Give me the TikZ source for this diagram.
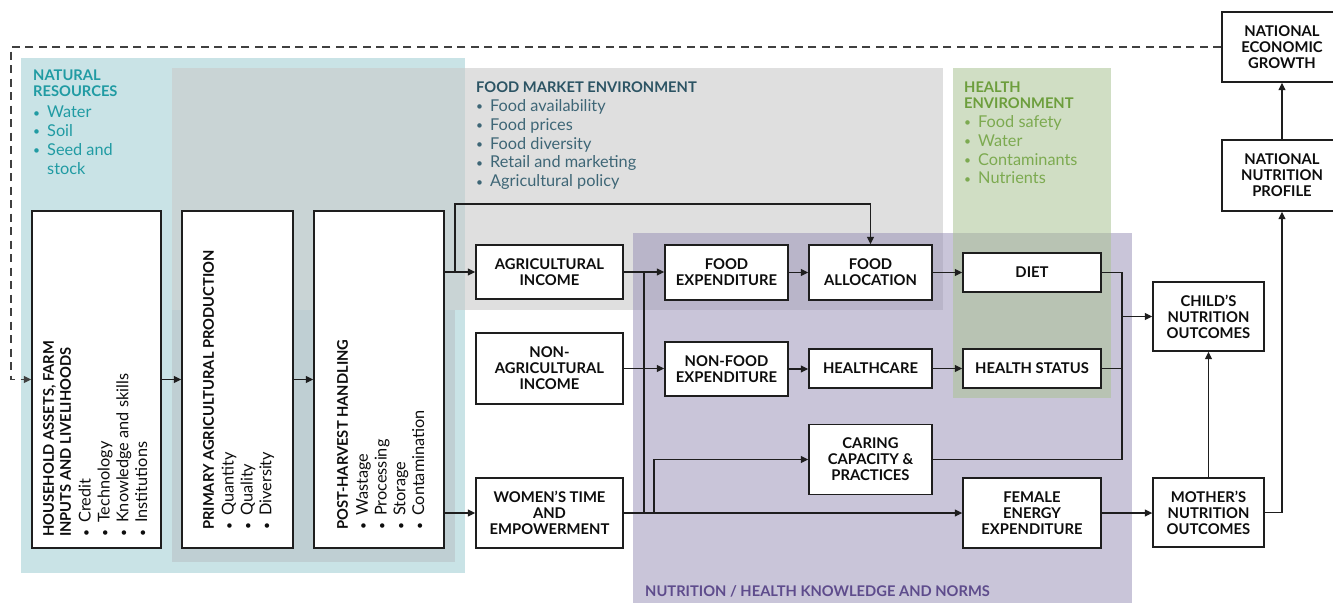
\documentclass[tikz,border=0pt]{standalone}
\usepackage{fontspec}
\setmainfont{Lato}
\usetikzlibrary{arrows.meta}

\definecolor{tealbg}{RGB}{201,227,230}
\definecolor{mktgray}{RGB}{202,202,202}
\definecolor{innergray}{RGB}{191,207,211}
\definecolor{purpbg}{RGB}{147,139,179}
\definecolor{greenbg}{RGB}{171,195,149}
\definecolor{tealtxt}{RGB}{32,155,163}
\definecolor{mkttitle}{RGB}{44,84,100}
\definecolor{mkttxt}{RGB}{62,102,118}
\definecolor{greentitle}{RGB}{108,158,60}
\definecolor{greentxt}{RGB}{124,170,80}
\definecolor{purptxt}{RGB}{94,76,140}
\definecolor{boxline}{RGB}{30,30,30}

\newcommand\itm[1]{\makebox[14pt][l]{\raisebox{0.6pt}{\fontsize{12}{12}\selectfont\textbullet}}#1}
\newcommand\boxfont{\fontsize{14.8}{16}\selectfont\bfseries}
\newcommand\listfont{\fontsize{16.3}{18.8}\selectfont}
\newcommand\titlefont{\fontsize{14.7}{16}\selectfont\bfseries}
\newcommand\ttl[1]{{\titlefont #1}}

\begin{document}
\begin{tikzpicture}[x=1pt,y=-1pt,
  box/.style={draw=boxline, line width=1.4pt, fill=white, align=center,
    font=\boxfont, inner sep=0pt, text=black!95},
  tallbox/.style={draw=boxline, line width=1.4pt, fill=white, inner sep=0pt},
  rotlabel/.style={rotate=90, anchor=north west, inner sep=0pt, align=left,
    font=\listfont, text=black!95},
  region/.style={anchor=north west, inner sep=0pt, align=left, font=\listfont},
  ln/.style={draw=boxline, line width=1.3pt},
  arr/.style={ln, -{Triangle[length=7.5pt,width=7pt]}},
  loopline/.style={draw=black!75, line width=1.3pt, dash pattern=on 8pt off 5.5pt,
    -{Triangle[length=7.5pt,width=7pt]}}
]
\clip (0,0) rectangle (1333,603);

% ---- environment panels ----
\fill[tealbg] (21,58) rectangle (465,573);
\fill[mktgray, fill opacity=0.6] (172,68) rectangle (943,310);
\fill[innergray] (172,310) rectangle (455,562);
\fill[purpbg, fill opacity=0.5] (633,233) rectangle (1132,603);
\fill[greenbg, fill opacity=0.556] (953,68) rectangle (1111,398);

% ---- panel captions ----
\node[region, text=tealtxt] (natres) at (33,69.5)
  {\ttl{NATURAL}\\[-2.8pt] \ttl{RESOURCES}\\[2.5pt]
   \itm{Water}\\ \itm{Soil}\\ \itm{Seed and}\\ \hspace*{14pt}stock};
\node[region, text=mkttxt] (foodmkt) at (476,81.5)
  {\ttl{\color{mkttitle}FOOD MARKET ENVIRONMENT}\\[0.3pt]
   \itm{Food availability}\\ \itm{Food prices}\\ \itm{Food diversity}\\
   \itm{Retail and marketing}\\ \itm{Agricultural policy}};
\node[region, text=greentxt] (healthenv) at (964,81.5)
  {\ttl{\color{greentitle}HEALTH}\\[-2.8pt] \ttl{\color{greentitle}ENVIRONMENT}\\[0.3pt]
   \itm{Food safety}\\ \itm{Water}\\ \itm{Contaminants}\\ \itm{Nutrients}};
\node[anchor=base west, inner sep=0pt, font=\titlefont, text=purptxt] (norms)
  at (645,596) {NUTRITION / HEALTH KNOWLEDGE AND NORMS};

% ---- tall production boxes ----
\node[tallbox, minimum width=129pt, minimum height=337pt] (hh) at (96.5,379.5) {};
\node[tallbox, minimum width=111pt, minimum height=337pt] (pap) at (237.5,379.5) {};
\node[tallbox, minimum width=130pt, minimum height=337pt] (phh) at (379,379.5) {};

\node[rotlabel] (hhlab) at (43,537)
  {\ttl{HOUSEHOLD ASSETS, FARM}\\[-1.8pt] \ttl{INPUTS AND LIVELIHOODS}\\[1pt]
   \itm{Credit}\\ \itm{Technology}\\ \itm{Knowledge and skills}\\ \itm{Institutions}};
\node[rotlabel] (paplab) at (203,530)
  {\ttl{PRIMARY AGRICULTURAL PRODUCTION}\\[1pt]
   \itm{Quantity}\\ \itm{Quality}\\ \itm{Diversity}};
\node[rotlabel] (phhlab) at (337,530)
  {\ttl{POST-HARVEST HANDLING}\\[1pt]
   \itm{Wastage}\\ \itm{Processing}\\ \itm{Storage}\\ \itm{Contamination}};

% ---- household economy boxes ----
\node[box, minimum width=147pt, minimum height=54pt] (agi) at (549.5,272) {AGRICULTURAL\\INCOME};
\node[box, minimum width=147pt, minimum height=71pt] (nagi) at (549.5,368.5) {NON-\\AGRICULTURAL\\INCOME};
\node[box, minimum width=147pt, minimum height=70pt] (wte) at (549.5,513) {WOMEN’S TIME\\AND\\EMPOWERMENT};

\node[box, minimum width=123pt, minimum height=55pt] (fexp) at (726.5,272.5) {FOOD\\EXPENDITURE};
\node[box, minimum width=123pt, minimum height=55pt] (falloc) at (870.5,272.5) {FOOD\\ALLOCATION};
\node[box, minimum width=123pt, minimum height=54pt] (nfexp) at (726.5,369) {NON-FOOD\\EXPENDITURE};
\node[box, minimum width=123pt, minimum height=39pt] (hcare) at (870.5,368.5) {HEALTHCARE};
\node[box, minimum width=123pt, minimum height=70pt] (care) at (870.5,459.5) {CARING\\CAPACITY \&\\PRACTICES};

\node[box, minimum width=138pt, minimum height=39pt] (diet) at (1032,272.5) {DIET};
\node[box, minimum width=138pt, minimum height=39pt] (hstat) at (1032,368.5) {HEALTH STATUS};
\node[box, minimum width=138pt, minimum height=70pt] (fee) at (1032,513) {FEMALE\\ENERGY\\EXPENDITURE};

\node[box, minimum width=111pt, minimum height=69pt] (child) at (1208.5,316.5) {CHILD’S\\NUTRITION\\OUTCOMES};
\node[box, minimum width=111pt, minimum height=69pt] (mother) at (1208.5,512.5) {MOTHER’S\\NUTRITION\\OUTCOMES};

\node[box, minimum width=120pt, minimum height=71pt] (nnp) at (1282,175.5) {NATIONAL\\NUTRITION\\PROFILE};
\node[box, minimum width=120pt, minimum height=70pt] (neg) at (1282,47) {NATIONAL\\ECONOMIC\\GROWTH};

% ---- feedback loop ----
\coordinate (loopcorner) at (11,47);
\draw[loopline] (neg.west) -- (loopcorner) |- (hh.west);

% ---- connectors ----
\draw[arr] (hh.east) -- (pap.west);
\draw[arr] (pap.east) -- (phh.west);
\draw[arr] (phh.east |- agi.west) -- (agi.west);
\draw[arr] (phh.east |- wte.west) -- (wte.west);

\coordinate (mktbranch) at (455,204);
\draw[arr] (agi.west -| mktbranch) -- (mktbranch) -| (falloc.north);

\draw[arr] (agi.east) -- (agi.east -| fexp.west);
\draw[arr] (fexp.east) -- (fexp.east -| falloc.west);
\draw[arr] (falloc.east) -- (falloc.east -| diet.west);
\draw[arr] (nagi.east) -- (nagi.east -| nfexp.west);
\draw[arr] (nfexp.east) -- (nfexp.east -| hcare.west);
\draw[arr] (hcare.east) -- (hstat.west);
\draw[arr] (wte.east) -- (wte.east -| fee.west);

\coordinate (incomelink) at (644,272);
\draw[ln] (incomelink) -- (wte.east -| incomelink);
\coordinate (carebranch) at (654,459.5);
\draw[arr] (wte.east -| carebranch) -- (carebranch) -- (care.west);

\coordinate (collect) at (1122,272);
\draw[ln] (diet.east) -- (diet.east -| collect) -- (care.east -| collect) -- (care.east);
\draw[ln] (hstat.east) -- (hstat.east -| collect);
\draw[arr] (child.west -| collect) -- (child.west);

\draw[arr] (fee.east) -- (fee.east -| mother.west);
\draw[arr] (mother.north) -- (child.south);
\coordinate (national) at (1282,513);
\draw[arr] (mother.east) -- (mother.east -| national) -- (nnp.south);
\draw[arr] (nnp.north) -- (neg.south);
\end{tikzpicture}
\end{document}
